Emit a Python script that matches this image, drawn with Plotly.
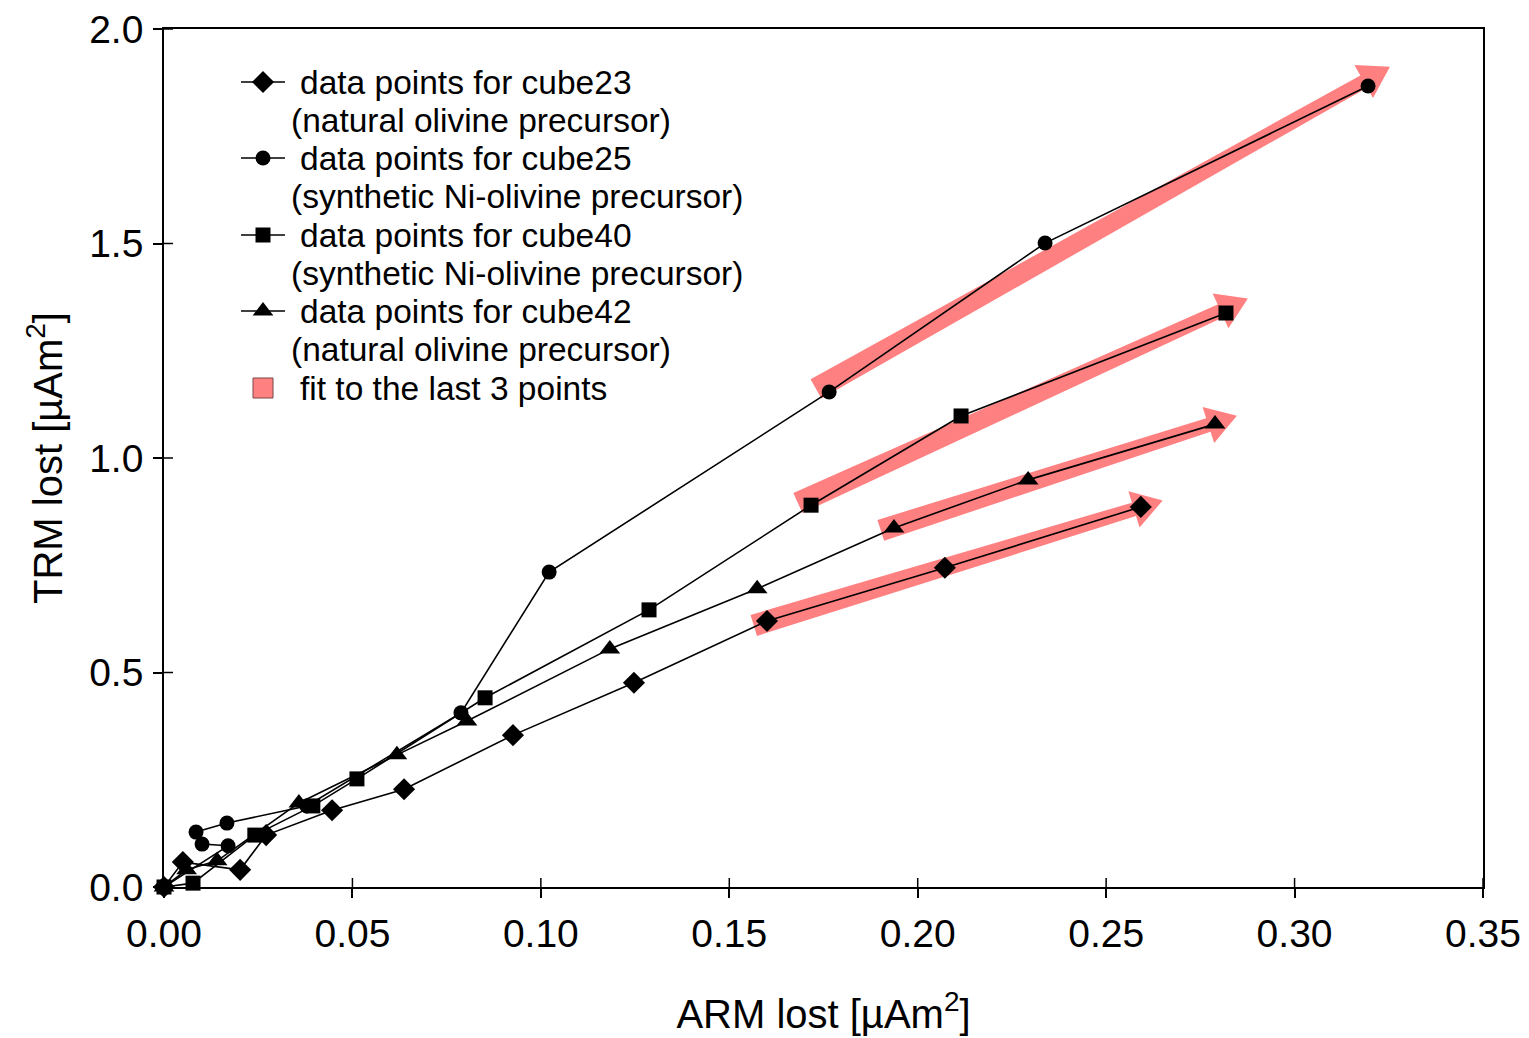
import numpy as np
import plotly.graph_objects as go

# ARM lost vs TRM lost (µAm²) for each sample cube
cube23_arm = [0.0, 0.0050, 0.0202, 0.0271, 0.0446, 0.0637, 0.0926, 0.1247, 0.1600, 0.2072, 0.2592]
cube23_trm = [0.0, 0.058, 0.040, 0.121, 0.179, 0.228, 0.354, 0.476, 0.620, 0.744, 0.886]

cube25_arm = [0.0, 0.0170, 0.0101, 0.0085, 0.0167, 0.0379, 0.0788, 0.1022, 0.1765, 0.2338, 0.3195]
cube25_trm = [0.0, 0.096, 0.100, 0.128, 0.149, 0.189, 0.406, 0.734, 1.154, 1.501, 1.867]

cube40_arm = [0.0, 0.0077, 0.0241, 0.0395, 0.0512, 0.0852, 0.1287, 0.1717, 0.2115, 0.2818]
cube40_trm = [0.0, 0.009, 0.121, 0.189, 0.252, 0.441, 0.646, 0.890, 1.098, 1.338]

cube42_arm = [0.0, 0.0060, 0.0141, 0.0358, 0.0618, 0.0804, 0.1183, 0.1574, 0.1937, 0.2293, 0.2789]
cube42_trm = [0.0, 0.040, 0.061, 0.196, 0.308, 0.387, 0.555, 0.695, 0.837, 0.949, 1.079]

series_names = ["cube23", "cube25", "cube40", "cube42"]
series_notes = ["(natural olivine precursor)", "(synthetic Ni-olivine precursor)",
                "(synthetic Ni-olivine precursor)", "(natural olivine precursor)"]
series_symbols = ["diamond", "circle", "square", "triangle-up"]
series_sizes = [17, 15, 15, 18]

x_ticks = [0.00, 0.05, 0.10, 0.15, 0.20, 0.25, 0.30, 0.35]
y_ticks = [0.0, 0.5, 1.0, 1.5, 2.0]
x_range = [0.0, 0.35]
y_range = [0.0, 2.0]

# page geometry
W, H = 1529, 1038
ML, MR, MT, MB = 164, 46, 29, 151
PW, PH = W - ML - MR, H - MT - MB
KX = PW / (x_range[1] - x_range[0])   # px per unit x
KY = PH / (y_range[1] - y_range[0])   # px per unit y

FIT_COLOR = "rgb(255,128,128)"
FONT = "Arial, Liberation Sans, sans-serif"

data = [(cube23_arm, cube23_trm), (cube25_arm, cube25_trm),
        (cube40_arm, cube40_trm), (cube42_arm, cube42_trm)]


def fit_arrow(xs, ys, tail_ext=0.0035, tip_ext=0.0058,
              w_tail=22.0, w_neck=14.0, head_w=38.0, head_len=30.0):
    """Tapered arrow polygon along the least-squares line through the last 3 points."""
    x3 = np.array(xs[-3:]); y3 = np.array(ys[-3:])
    m, b = np.polyfit(x3, y3, 1)
    xa, xb = x3.min() - tail_ext, x3.max() + tip_ext
    p0 = np.array([xa * KX, (m * xa + b) * KY])
    p1 = np.array([xb * KX, (m * xb + b) * KY])
    d = (p1 - p0) / np.linalg.norm(p1 - p0)
    n = np.array([-d[1], d[0]])
    neck = p1 - head_len * d
    pts = [p0 + n * w_tail / 2, neck + n * w_neck / 2, neck + n * head_w / 2, p1,
           neck - n * head_w / 2, neck - n * w_neck / 2, p0 - n * w_tail / 2, p0 + n * w_tail / 2]
    px = [p[0] / KX for p in pts]
    py = [p[1] / KY for p in pts]
    return px, py


fig = go.Figure()

# fitted arrows underneath the data
for xs, ys in data:
    ax_, ay_ = fit_arrow(xs, ys)
    fig.add_trace(go.Scatter(x=ax_, y=ay_, mode="lines", fill="toself",
                             fillcolor=FIT_COLOR, line=dict(width=0, color=FIT_COLOR),
                             hoverinfo="skip", showlegend=False))

# measured series
for (xs, ys), name, sym, sz in zip(data, series_names, series_symbols, series_sizes):
    fig.add_trace(go.Scatter(x=xs, y=ys, mode="lines+markers", name=name,
                             line=dict(color="black", width=1.6),
                             marker=dict(symbol=sym, size=sz, color="black",
                                         line=dict(width=0)),
                             showlegend=False, cliponaxis=False))

# legend, drawn on a hidden overlay axis in page pixels
LEG_X0, LEG_X1, LEG_XM = 241, 285, 263
LEG_TEXT_X, LEG_NOTE_X = 298, 289
leg_rows = [82, 158, 235, 311]
leg_step = 38.3
LEG_FONT = dict(size=33.5, color="black", family=FONT)
for row, name, note, sym, sz in zip(leg_rows, series_names, series_notes, series_symbols, series_sizes):
    fig.add_trace(go.Scatter(x=[LEG_X0, LEG_X1], y=[row, row], mode="lines",
                             line=dict(color="black", width=1.6),
                             xaxis="x3", yaxis="y3", showlegend=False, hoverinfo="skip"))
    fig.add_trace(go.Scatter(x=[LEG_XM], y=[row], mode="markers",
                             marker=dict(symbol=sym, size=sz, color="black"),
                             xaxis="x3", yaxis="y3", showlegend=False, hoverinfo="skip"))
    fig.add_annotation(x=LEG_TEXT_X, y=row, xref="x3", yref="y3", xanchor="left",
                       yanchor="middle", showarrow=False, text="data points for " + name,
                       font=LEG_FONT)
    fig.add_annotation(x=LEG_NOTE_X, y=row + leg_step, xref="x3", yref="y3", xanchor="left",
                       yanchor="middle", showarrow=False, text=note, font=LEG_FONT)

fit_row = 388
fig.add_trace(go.Scatter(x=[LEG_XM], y=[fit_row], mode="markers",
                         marker=dict(symbol="square", size=20, color=FIT_COLOR,
                                     line=dict(color="rgb(120,70,70)", width=1)),
                         xaxis="x3", yaxis="y3", showlegend=False, hoverinfo="skip"))
fig.add_annotation(x=LEG_TEXT_X, y=fit_row, xref="x3", yref="y3", xanchor="left",
                   yanchor="middle", showarrow=False, text="fit to the last 3 points",
                   font=LEG_FONT)

# inward halves of the tick marks (ticks cross the axis lines)
TICK_IN = 9
for xv in x_ticks:
    fig.add_shape(type="line", xref="x", yref="y", x0=xv, x1=xv,
                  ysizemode="pixel", yanchor=y_range[0], y0=0, y1=TICK_IN,
                  line=dict(color="black", width=1.5))
for yv in y_ticks:
    fig.add_shape(type="line", xref="x", yref="y", y0=yv, y1=yv,
                  xsizemode="pixel", xanchor=x_range[0], x0=0, x1=TICK_IN,
                  line=dict(color="black", width=1.5))

axis_common = dict(showgrid=False, zeroline=False, showline=True, linecolor="black",
                   linewidth=1.6, mirror=True, ticks="outside", ticklen=TICK_IN,
                   tickwidth=1.5, tickcolor="black",
                   tickfont=dict(size=39, color="black", family=FONT))

fig.update_layout(
    width=W, height=H,
    margin=dict(l=ML, r=MR, t=MT, b=MB, autoexpand=False),
    paper_bgcolor="white", plot_bgcolor="white",
    showlegend=False,
    xaxis=dict(range=x_range, tickvals=x_ticks, tickformat=".2f",
               ticklabelstandoff=2,
               title=dict(text="ARM lost [µAm<sup>2</sup>]", standoff=46,
                          font=dict(size=40, color="black", family=FONT)),
               **axis_common),
    yaxis=dict(range=y_range, tickvals=y_ticks, tickformat=".1f",
               ticklabelstandoff=2,
               title=dict(text="TRM lost [µAm<sup>2</sup>]", standoff=14,
                          font=dict(size=40, color="black", family=FONT)),
               **axis_common),
    xaxis3=dict(overlaying="x", range=[ML, ML + PW], visible=False, fixedrange=True),
    yaxis3=dict(overlaying="y", range=[MT + PH, MT], visible=False, fixedrange=True),
)

fig.write_html("out.html")
